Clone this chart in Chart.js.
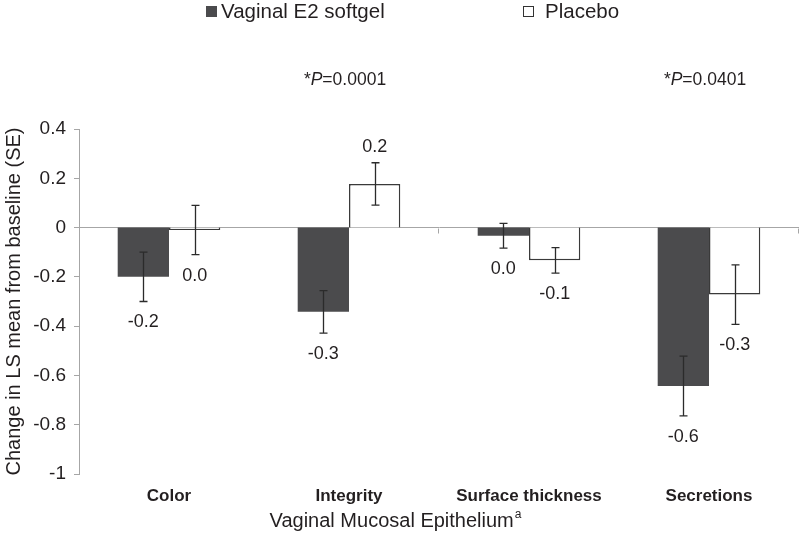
<!DOCTYPE html>
<html><head><meta charset="utf-8">
<script src="https://cdn.jsdelivr.net/npm/chart.js@4.4.1/dist/chart.umd.min.js"></script>
<style>html,body{margin:0;padding:0;background:#fff}#wrap{width:800px;height:544px}</style>
</head><body><div id="wrap"><canvas id="c" width="800" height="544"></canvas></div>
<script>
const categories = ['Color', 'Integrity', 'Surface thickness', 'Secretions'];
const seriesNames = ['Vaginal E2 softgel', 'Placebo'];
const e2Values = [-0.20, -0.342, -0.033, -0.643];
const e2SE = [0.100, 0.086, 0.050, 0.121];
const placeboValues = [-0.010, 0.177, -0.133, -0.272];
const placeboSE = [0.100, 0.086, 0.052, 0.121];
const pValueLabels = ['', '0.0001', '', '0.0401'];
const yTickRange = { min: -1, max: 0.4, step: 0.2 };
const yAxisTitle = 'Change in LS mean from baseline (SE)';
const xAxisTitle = 'Vaginal Mucosal Epithelium';
const xAxisTitleSup = 'a';

const FONT = '"Liberation Sans", Arial, sans-serif';
const TEXT = '#231f20';
const AXIS = '#a6a6a6';
const DARK = '#4b4b4d';

const seSets = [e2SE, placeboSE];

const extras = {
  id: 'extras',
  afterDatasetsDraw(chart) {
    const { ctx, scales: { x, y } } = chart;
    ctx.save();
    // small tick marks on the zero line (visible ones in the reference)
    ctx.strokeStyle = AXIS; ctx.lineWidth = 1;
    const y0 = Math.round(y.getPixelForValue(0)) + 0.5;
    const half = (x.getPixelForValue(1) - x.getPixelForValue(0)) / 2;
    [1, 3].forEach(i => {
      const xb = Math.round(x.getPixelForValue(i) + half) - 0.5;
      ctx.beginPath(); ctx.moveTo(xb, y0); ctx.lineTo(xb, y0 + 5); ctx.stroke();
    });
    // error bars and value labels
    chart.data.datasets.forEach((ds, di) => {
      const meta = chart.getDatasetMeta(di);
      meta.data.forEach((bar, i) => {
        const v = ds.data[i], se = seSets[di][i];
        const yHi = y.getPixelForValue(v + se), yLo = y.getPixelForValue(v - se);
        const cx = Math.round(bar.x) + 0.5;
        ctx.strokeStyle = '#2b2b2b'; ctx.lineWidth = 1.3;
        ctx.beginPath();
        ctx.moveTo(cx, yHi); ctx.lineTo(cx, yLo);
        ctx.moveTo(cx - 4, yHi); ctx.lineTo(cx + 4, yHi);
        ctx.moveTo(cx - 4, yLo); ctx.lineTo(cx + 4, yLo);
        ctx.stroke();
        ctx.fillStyle = TEXT;
        ctx.font = '18px ' + FONT;
        ctx.textAlign = 'center'; ctx.textBaseline = 'middle';
        const txt = (Math.abs(v) < 0.05 ? 0 : v).toFixed(1);
        const ly = v > 0 ? yHi - 16 : yLo + 21;
        ctx.fillText(txt, bar.x, ly);
      });
    });
    // P values
    pValueLabels.forEach((p, i) => {
      if (!p) return;
      const cx = x.getPixelForValue(i) - 4;
      const parts = [['*', ''], ['P', 'italic '], ['=' + p, '']];
      ctx.textBaseline = 'middle'; ctx.textAlign = 'left';
      let w = 0;
      parts.forEach(([t, s]) => { ctx.font = s + '17.5px ' + FONT; w += ctx.measureText(t).width; });
      let px = cx - w / 2;
      parts.forEach(([t, s]) => { ctx.font = s + '17.5px ' + FONT; ctx.fillText(t, px, 80); px += ctx.measureText(t).width; });
    });
    // legend
    ctx.font = '20.5px ' + FONT; ctx.textBaseline = 'middle'; ctx.textAlign = 'left';
    ctx.fillStyle = DARK; ctx.fillRect(206, 6, 11, 11);
    ctx.fillStyle = TEXT; ctx.fillText(seriesNames[0], 221, 12);
    ctx.fillStyle = '#fff'; ctx.fillRect(523, 7, 10, 10);
    ctx.strokeStyle = '#333'; ctx.lineWidth = 1; ctx.strokeRect(523.5, 6.5, 10, 10);
    ctx.fillStyle = TEXT; ctx.fillText(seriesNames[1], 545, 12);
    // x axis title with superscript
    ctx.font = '20px ' + FONT;
    const w1 = ctx.measureText(xAxisTitle).width;
    ctx.font = '12px ' + FONT;
    const w2 = ctx.measureText(xAxisTitleSup).width;
    const tx = 395 - (w1 + w2) / 2;
    ctx.font = '20px ' + FONT; ctx.fillText(xAxisTitle, tx, 521);
    ctx.font = '12px ' + FONT; ctx.fillText(xAxisTitleSup, tx + w1 + 1, 515);
    ctx.restore();
  }
};

new Chart(document.getElementById('c'), {
  type: 'bar',
  data: {
    labels: categories,
    datasets: [
      { label: seriesNames[0], data: e2Values, backgroundColor: DARK, borderColor: DARK, borderWidth: 0 },
      { label: seriesNames[1], data: placeboValues, backgroundColor: '#ffffff', borderColor: '#3a3a3a', borderWidth: 1.5, borderSkipped: 'start' }
    ]
  },
  options: {
    responsive: false, animation: false, devicePixelRatio: 1,
    layout: { padding: { top: 129, right: 1, left: 0, bottom: 0 } },
    plugins: { legend: { display: false }, tooltip: { enabled: false } },
    datasets: { bar: { categoryPercentage: 0.57, barPercentage: 1.0 } },
    scales: {
      x: {
        grid: { display: false, drawTicks: false },
        border: { display: false },
        ticks: { color: TEXT, font: { family: FONT, size: 17, weight: 'bold' }, padding: 12, maxRotation: 0 },
        afterFit(s) { s.height = 70; }
      },
      y: {
        min: yTickRange.min, max: yTickRange.max,
        ticks: {
          stepSize: yTickRange.step, color: TEXT, font: { family: FONT, size: 19 }, padding: 8,
          callback: v => String(Number(v.toFixed(1)))
        },
        grid: {
          color: c => (c.tick && Math.abs(c.tick.value) < 1e-9) ? AXIS : 'rgba(0,0,0,0)',
          tickColor: AXIS, tickLength: 5, drawOnChartArea: true
        },
        border: { display: true, color: AXIS, width: 1 },
        title: { display: true, text: yAxisTitle, color: TEXT, font: { family: FONT, size: 20 }, padding: { top: 2, bottom: 0 } },
        afterFit(s) { s.width = 79; }
      }
    }
  },
  plugins: [extras]
});
</script></body></html>
